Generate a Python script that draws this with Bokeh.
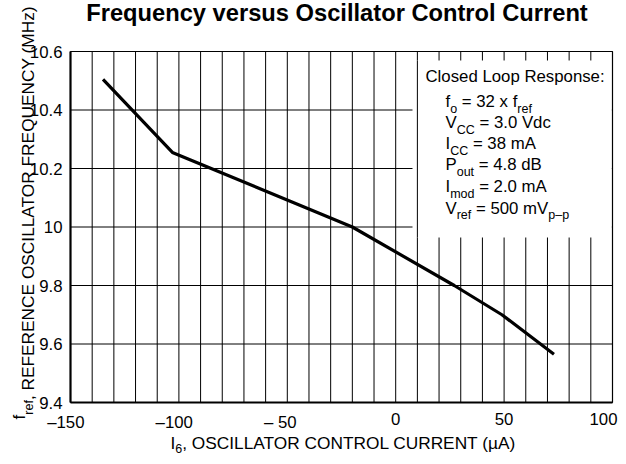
from bokeh.plotting import figure
from bokeh.models import Label, Range1d
from bokeh.embed import file_html
from bokeh.resources import INLINE
import math

# ---------------- data ----------------
current_uA = [-135, -103, -20, 27, 49, 73]
freq_MHz = [10.505, 10.255, 10.0, 9.8, 9.7, 9.565]

x_ticks = [-150, -100, -50, 0, 50, 100]
x_tick_labels = ["–150", "–100", "– 50", "0", "50", "100"]
y_ticks = [9.4, 9.6, 9.8, 10.0, 10.2, 10.4, 10.6]
y_tick_labels = ["9.4", "9.6", "9.8", "10", "10.2", "10.4", "10.6"]
x_grid = list(range(-150, 101, 10))

title_text = "Frequency versus Oscillator Control Current"
note_lines = [
    [("Closed Loop Response:", False)],
    [("f", False), ("o", True), (" = 32 x f", False), ("ref", True)],
    [("V", False), ("CC", True), (" = 3.0 Vdc", False)],
    [("I", False), ("CC", True), (" = 38 mA", False)],
    [("P", False), ("out", True), (" = 4.8 dB", False)],
    [("I", False), ("mod", True), (" = 2.0 mA", False)],
    [("V", False), ("ref", True), (" = 500 mV", False), ("p–p", True)],
]
xlabel_parts = [("I", False), ("6", True), (", OSCILLATOR CONTROL CURRENT (µA)", False)]
ylabel_parts = [("f", False), ("ref", True), (", REFERENCE OSCILLATOR FREQUENCY (MHz)", False)]

# ---------------- layout ----------------
W, H = 618, 456
FL, FR, FT, FB = 70, 612, 51, 402  # plot-area edges in figure px
X0, X1, Y0, Y1 = -150, 100, 9.4, 10.6
KX = (FR - FL) / (X1 - X0)  # px per data unit
KY = (FB - FT) / (Y1 - Y0)
FONT = "Liberation Sans"
MAIN = 16.8
SUB = 12.5
LAB = 17.3
BASE_FIX = 0.34  # Label 'alphabetic' anchor sits this many em below the glyph baseline

AW = {' ': 278, '(': 333, ')': 333, ',': 278, '-': 333, '.': 278, ':': 278, '=': 584,
      'A': 667, 'B': 667, 'C': 722, 'D': 722, 'E': 667, 'F': 611, 'H': 722, 'I': 278,
      'L': 556, 'M': 833, 'N': 722, 'O': 778, 'P': 667, 'Q': 778, 'R': 722, 'S': 667,
      'T': 611, 'U': 722, 'V': 667, 'Y': 667, 'a': 556, 'b': 556, 'c': 500, 'd': 556,
      'e': 556, 'f': 278, 'i': 222, 'l': 222, 'm': 833, 'n': 556, 'o': 556, 'p': 556,
      'r': 333, 's': 500, 't': 278, 'u': 556, 'x': 500, 'z': 500, '–': 556, 'µ': 576}


def tw(s, size):
    return sum(AW.get(c, 556) for c in s) / 1000.0 * size


def DX(px):  # figure px -> data x
    return X0 + (px - FL) / KX


def DY(py):  # figure px -> data y
    return Y1 - (py - FT) / KY


# the frame spans the whole canvas; plot area is drawn inside it
p = figure(width=W, height=H, output_backend="svg", toolbar_location=None,
           x_range=Range1d(DX(0), DX(W)), y_range=Range1d(DY(H), DY(0)),
           x_axis_type=None, y_axis_type=None,
           min_border=0, min_border_left=0, min_border_right=0,
           min_border_top=0, min_border_bottom=0)
p.background_fill_color = "white"
p.border_fill_color = "white"
p.outline_line_color = None
p.grid.visible = False

# grid lines
p.segment(x0=x_grid, y0=[Y0] * len(x_grid), x1=x_grid, y1=[Y1] * len(x_grid),
          line_color="black", line_width=1)
p.segment(x0=[X0] * len(y_ticks), y0=y_ticks, x1=[X1] * len(y_ticks), y1=y_ticks,
          line_color="black", line_width=1)

# curve
p.line(current_uA, freq_MHz, line_color="black", line_width=3.2, line_join="round")

# note box (white panel covering grid)
box_l, box_r, box_b, box_t = DX(412), X1 - 0.3, DY(237), DY(60)
p.quad(left=[box_l], right=[box_r], bottom=[box_b], top=[box_t],
       fill_color="white", line_color=None)
p.segment(x0=[10], y0=[box_b], x1=[10], y1=[box_t], line_color="black", line_width=1)

# plot-area border: heavy left/bottom axes, thin top/right
p.segment(x0=[X0, X0], y0=[Y0, Y0], x1=[X0, X1], y1=[Y1, Y0], line_color="black",
          line_width=2.2)
p.segment(x0=[X0, X1], y0=[Y1, Y0], x1=[X1, X1], y1=[Y1, Y1], line_color="black",
          line_width=1.2)


# tick labels (digits centred on the tick, dash hanging to the left)
def lead(s):
    i = 0
    while i < len(s) and not s[i].isdigit():
        i += 1
    return s[:i]


x_lab_pos = []
for t, s in zip(x_ticks, x_tick_labels):
    cx = FL + (t - X0) * KX - tw(lead(s), MAIN) / 2
    cx = min(cx, W - 1 - tw(s, MAIN) / 2)  # keep inside the canvas
    x_lab_pos.append(DX(cx))
p.text(x=x_lab_pos, y=[DY(FB + 10)] * len(x_ticks), text=x_tick_labels,
       text_font={"value": FONT}, text_font_size={"value": f"{MAIN}px"},
       text_color="black", text_align="center", text_baseline="top")
p.text(x=[DX(FL - 8)] * len(y_ticks), y=y_ticks, text=y_tick_labels,
       text_font={"value": FONT}, text_font_size={"value": f"{MAIN}px"},
       text_color="black", text_align="right", text_baseline="middle")


def add_parts(parts, px, py, main, sub, drop):
    x = px
    for txt, is_sub in parts:
        size = sub if is_sub else main
        stripped = txt.lstrip(" ")
        x += tw(txt[:len(txt) - len(stripped)], size)
        yy = py + (drop if is_sub else 0) - BASE_FIX * size
        p.add_layout(Label(x=DX(x), y=DY(yy), text=stripped, text_font=FONT,
                           text_font_size=f"{size}px", text_color="black",
                           text_align="left", text_baseline="alphabetic"))
        x += tw(stripped, size)


baselines = [82, 107, 128, 149, 170, 192, 213.5]
for i, parts in enumerate(note_lines):
    add_parts(parts, 425 if i == 0 else 445, baselines[i], MAIN, SUB, 5.5)

# x-axis label
add_parts(xlabel_parts, 170, 448, LAB, SUB, 4.5)

# y-axis label (rotated, reads bottom to top)
py = 419
for i, (txt, is_sub) in enumerate(ylabel_parts):
    size = SUB if is_sub else LAB
    bx = (24 if i == 0 else 33) - BASE_FIX * size
    stripped = txt.lstrip(" ")
    py -= tw(txt[:len(txt) - len(stripped)], size)
    p.add_layout(Label(x=DX(bx), y=DY(py), text=stripped, text_font=FONT,
                       text_font_size=f"{size}px", text_color="black",
                       angle=math.pi / 2, text_align="left", text_baseline="alphabetic"))
    py -= tw(stripped, size)

# title
TS = 23.7
p.add_layout(Label(x=DX(336.5), y=DY(20.5 - BASE_FIX * TS), text=title_text, text_font=FONT,
                   text_font_style="bold", text_font_size=f"{TS}px", text_color="black",
                   text_align="center", text_baseline="alphabetic"))

open("out.html", "w").write(file_html(p, INLINE))
